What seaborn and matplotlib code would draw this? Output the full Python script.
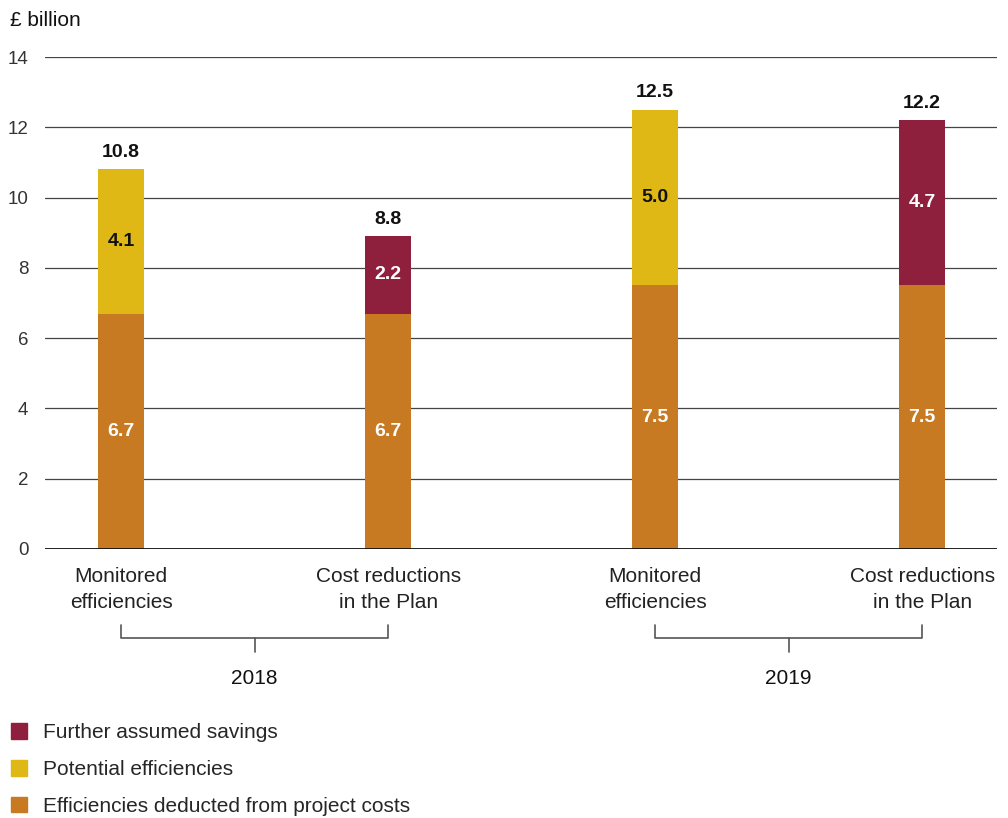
import pandas as pd
import matplotlib.pyplot as plt
import seaborn as sns
from matplotlib.patches import Patch

# data
bars = ["m2018", "c2018", "m2019", "c2019"]
bar_labels = ["Monitored\nefficiencies", "Cost reductions\nin the Plan",
              "Monitored\nefficiencies", "Cost reductions\nin the Plan"]
years = ["2018", "2019"]
deducted = [6.7, 6.7, 7.5, 7.5]
upper = [4.1, 2.2, 5.0, 4.7]
upper_kind = ["Potential efficiencies", "Further assumed savings",
              "Potential efficiencies", "Further assumed savings"]
totals = [10.8, 8.8, 12.5, 12.2]

col_orange = "#C87A22"
col_yellow = "#E0B815"
col_red = "#8E1F3D"
kind_colors = {"Potential efficiencies": col_yellow, "Further assumed savings": col_red}

sns.set_style("white")
plt.rcParams["font.family"] = ["Liberation Sans", "DejaVu Sans"]

df = pd.DataFrame({"bar": bars, "deducted": deducted, "upper": upper,
                   "kind": upper_kind, "total": totals})
df["stack"] = df["deducted"] + df["upper"]

fig = plt.figure(figsize=(10.08, 8.18), dpi=100)
ax = fig.add_axes([0.0446, 0.3289, 0.9444, 0.6014])

w = 0.172
sns.barplot(data=df, x="bar", y="stack", hue="kind", palette=kind_colors,
            order=bars, width=w, dodge=False, legend=False, ax=ax,
            saturation=1, linewidth=0, zorder=3)
sns.barplot(data=df, x="bar", y="deducted", color=col_orange, order=bars,
            width=w, ax=ax, saturation=1, linewidth=0, zorder=3)

ax.set_xlim(-0.285, 3.28)
ax.set_ylim(0, 14)
ax.set_yticks(range(0, 15, 2))
ax.grid(axis="y", color="#444444", lw=0.9, zorder=0)
ax.axhline(0, color="#111111", lw=1.3, zorder=4)
for s in ax.spines.values():
    s.set_visible(False)
ax.tick_params(axis="y", length=0, pad=12, labelsize=13.5, labelcolor="#333333")
ax.tick_params(axis="x", length=0, pad=13, labelsize=15, labelcolor="#222222")
ax.set_xticks(range(len(bars)))
ax.set_xticklabels(bar_labels, linespacing=1.45)
ax.set_xlabel("")
ax.set_ylabel("")

# value labels
for i, r in df.iterrows():
    ax.text(i, r["deducted"] / 2, f"{r['deducted']:.1f}", ha="center", va="center",
            color="white", fontsize=14, fontweight="bold", zorder=5)
    txt_col = "#111111" if r["kind"] == "Potential efficiencies" else "white"
    ax.text(i, r["deducted"] + r["upper"] / 2, f"{r['upper']:.1f}", ha="center",
            va="center", color=txt_col, fontsize=14, fontweight="bold", zorder=5)
    ax.text(i, r["stack"] + 0.48, f"{r['total']:.1f}", ha="center", va="center",
            color="#111111", fontsize=14, fontweight="bold", zorder=5)

# year brackets under the category labels
tr = ax.get_xaxis_transform()
for k, yr in enumerate(years):
    a, b = 2 * k, 2 * k + 1
    mid = (a + b) / 2
    ax.plot([a, a, b, b], [-0.1545, -0.1809, -0.1809, -0.1545], transform=tr,
            color="#555555", lw=1.2, clip_on=False)
    ax.plot([mid, mid], [-0.1809, -0.2093], transform=tr, color="#555555",
            lw=1.2, clip_on=False)
    ax.text(mid, -0.264, yr, transform=tr, ha="center", va="center",
            fontsize=15, color="#111111")

fig.text(0.010, 0.975, "£ billion", ha="left", va="center", fontsize=15, color="#111111")

handles = [Patch(color=col_red, label="Further assumed savings"),
           Patch(color=col_yellow, label="Potential efficiencies"),
           Patch(color=col_orange, label="Efficiencies deducted from project costs")]
fig.legend(handles=handles, loc="upper left", bbox_to_anchor=(0.0105, 0.1165),
           frameon=False, fontsize=15, handlelength=0.8, handleheight=0.8,
           handletextpad=0.75, labelspacing=0.85, borderaxespad=0, borderpad=0)

fig.savefig("out.png", dpi=100)
